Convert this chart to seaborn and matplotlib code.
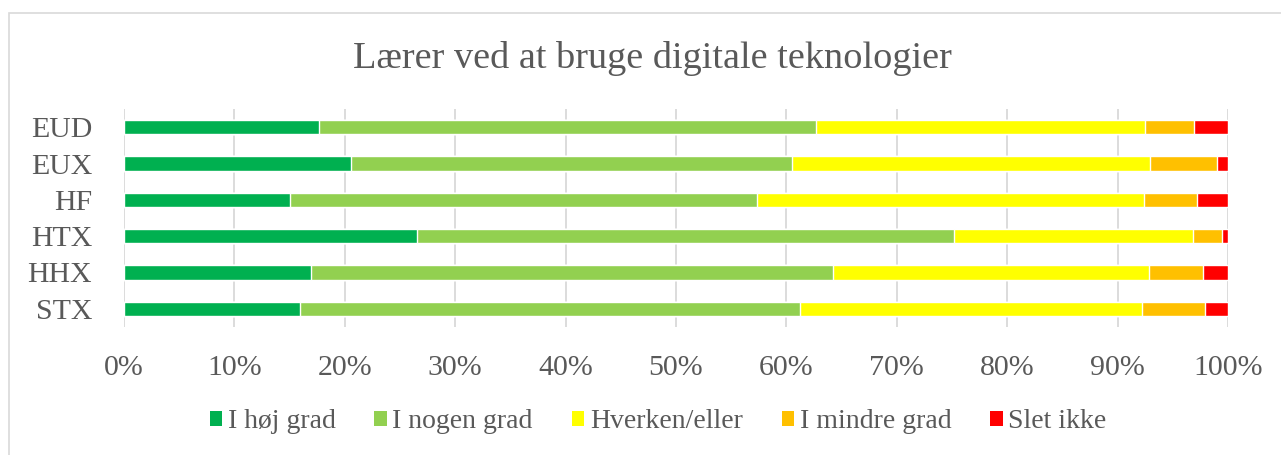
import pandas as pd
import seaborn as sns
import matplotlib.pyplot as plt
from matplotlib.patches import Patch, Rectangle

kategorier = ["EUD", "EUX", "HF", "HTX", "HHX", "STX"]
hoej_grad = [17.7, 20.6, 15.0, 26.5, 16.9, 15.9]
nogen_grad = [45.0, 39.9, 42.3, 48.7, 47.35, 45.3]
hverken = [29.8, 32.4, 35.1, 21.6, 28.55, 31.0]
mindre_grad = [4.4, 6.1, 4.8, 2.7, 4.9, 5.7]
slet_ikke = [3.1, 1.0, 2.8, 0.5, 2.3, 2.1]

serier = ["I høj grad", "I nogen grad", "Hverken/eller", "I mindre grad", "Slet ikke"]
farver = ["#00B050", "#92D050", "#FFFF00", "#FFC000", "#FF0000"]
tekstfarve = "#595959"

sns.set_theme(style="white")
plt.rcParams['font.family'] = ['Liberation Serif', 'DejaVu Serif']

df = pd.DataFrame({"kategori": kategorier, serier[0]: hoej_grad, serier[1]: nogen_grad,
                   serier[2]: hverken, serier[3]: mindre_grad, serier[4]: slet_ikke})
# cumulative sums, drawn from the last series to the first so they stack
kum = df[serier].cumsum(axis=1)
kum["kategori"] = df["kategori"]

fig = plt.figure(figsize=(12.81, 4.55), dpi=100)
ax = fig.add_axes([124 / 1281, 1 - 327 / 455, (1228 - 124) / 1281, (327 - 109) / 455])

for s, c in zip(serier[::-1], farver[::-1]):
    sns.barplot(data=kum, x=s, y="kategori", color=c, width=0.4, saturation=1, ax=ax)

ax.set_xlim(0, 100)
ax.set_ylim(5.5, -0.5)
ax.set_xticks(range(0, 101, 10))
ax.set_xticklabels([f"{v}%" for v in range(0, 101, 10)])
ax.set_xlabel("")
ax.set_ylabel("")
ax.grid(axis='x', color='#D9D9D9', linewidth=1.3)
ax.set_axisbelow(True)
for sp in ax.spines.values():
    sp.set_visible(False)
ax.tick_params(axis='y', length=0, pad=23, labelsize=21.5, labelcolor=tekstfarve)
ax.tick_params(axis='x', length=0, pad=20, labelsize=21.5, labelcolor=tekstfarve)

fig.text(652 / 1281, 1 - 68 / 455, "Lærer ved at bruge digitale teknologier",
         ha='center', va='baseline', fontsize=27.5, color=tekstfarve)

handles = [Patch(facecolor=c, edgecolor='none') for c in farver]
fig.legend(handles, serier, loc='center', bbox_to_anchor=(658 / 1281, 1 - 422 / 455),
           ncol=5, frameon=False, fontsize=20, handlelength=0.45, handleheight=0.45,
           handletextpad=0.2, columnspacing=1.4, labelcolor=tekstfarve)

# chart frame (cut off on the right and bottom in the original)
fig.patches.append(Rectangle((9 / 1281, -0.2), 1.2, 1.2 - 13 / 455, transform=fig.transFigure,
                             fill=False, edgecolor='#D9D9D9', linewidth=1.2))

plt.savefig("out.png", dpi=100)
